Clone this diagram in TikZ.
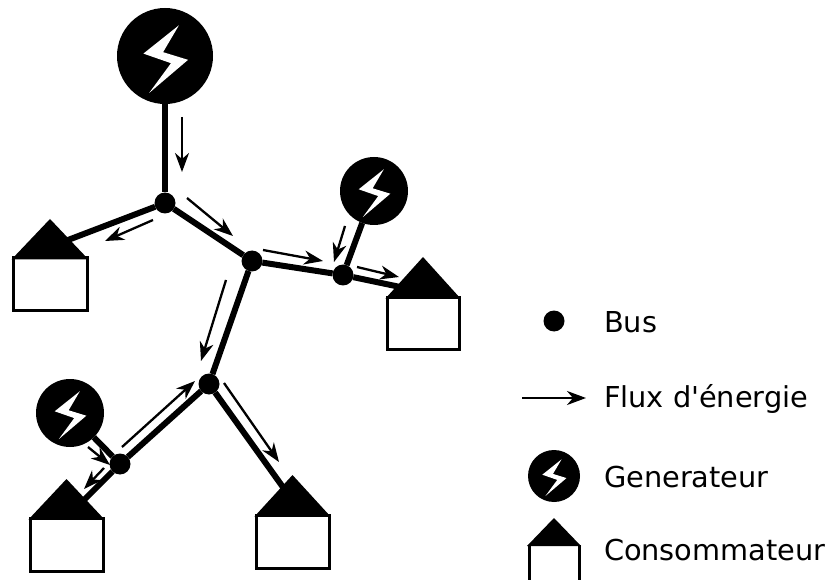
\documentclass[tikz,border=0pt]{standalone}
\usepackage{fontspec}
\newfontfamily\legendfont{DejaVu Sans}
\usetikzlibrary{arrows.meta}
\tikzset{
  busnode/.style={circle,fill=black,inner sep=0pt,outer sep=0pt,minimum size=21pt},
  gennode/.style={circle,fill=black,inner sep=0pt,outer sep=0pt,minimum size=#1},
  housebox/.style={rectangle,draw=black,fill=white,line width=3pt,inner sep=0pt,outer sep=0pt},
  link/.style={line width=6pt,black},
  flow/.style={line width=2.3pt,black,-{Stealth[length=19pt,width=14pt,inset=6pt]},shorten >=0pt},
  legend/.style={anchor=base west,inner sep=0pt,outer sep=0pt,font=\legendfont\fontsize{28.8pt}{32pt}\selectfont}
}
% name, cx, cy, radius
\newcommand{\gennd}[4]{%
  \node[gennode=#4*2pt] (#1) at (#2,#3) {};
  \fill[white,shift={(#2pt,-#3pt)},scale=#4]
    (.29,-.64) -- (-.45,-.05) -- (.125,.15) -- (-.33,.77) -- (.48,.08) -- (-.04,-.08) -- cycle;
}
% name, xleft, xright, yapex, ybase, ybottom
\newcommand{\housend}[6]{%
  \node[housebox,minimum width=#3pt-#2pt,minimum height=#6pt-#5pt,anchor=north west] (#1) at (#2,#5) {};
  \fill[black] (#2-1.5,#5+1.5) -- ({(#2+#3)/2},#4) -- (#3+1.5,#5+1.5) -- cycle;
}
% id, x1, y1, x2, y2
\newcommand{\flownd}[5]{%
  \coordinate (#1s) at (#2,#3);
  \coordinate (#1e) at (#4,#5);
  \draw[flow] (#1s) -- (#1e);
}
\begin{document}
\begin{tikzpicture}[x=1pt,y=-1pt]
\useasboundingbox (0,0) rectangle (833,580);
% nodes
\node[busnode] (b1) at (165,203) {};
\node[busnode] (b2) at (252,261) {};
\node[busnode] (b3) at (343,275) {};
\node[busnode] (b4) at (209,384) {};
\node[busnode] (b5) at (120,464) {};
% connectors (ends inside the roofs)
\coordinate (r1) at (68,240);
\coordinate (r2) at (405,288);
\coordinate (r3) at (84,500);
\coordinate (r4) at (285,490);
\gennd{g1}{165}{56}{48}
\gennd{g2}{374}{191}{34}
\gennd{g3}{70}{413}{34}
\draw[link] (g1) -- (b1);
\draw[link] (b1) -- (b2);
\draw[link] (b2) -- (b3);
\draw[link] (g2) -- (b3);
\draw[link] (b2) -- (b4);
\draw[link] (b4) -- (b5);
\draw[link] (g3) -- (b5);
\draw[link] (b1) -- (r1);
\draw[link] (b3) -- (r2);
\draw[link] (b5) -- (r3);
\draw[link] (b4) -- (r4);
% houses
\housend{h1}{13}{87}{219}{258}{310}
\housend{h2}{387}{459}{257}{297}{349}
\housend{h3}{30}{103}{479}{518}{571}
\housend{h4}{256}{329}{475}{515}{568}
% flows
\flownd{fa}{182}{117}{182}{172}
\flownd{fb}{153}{220}{105}{241}
\flownd{fc}{187}{198}{233}{236}
\flownd{fd}{263}{250}{323}{261}
\flownd{fe}{345}{226}{334}{262}
\flownd{ff}{357}{267}{399}{277}
\flownd{fg}{226}{280}{201}{361}
\flownd{fh}{224}{383}{279}{462}
\flownd{fi}{122}{447}{195}{381}
\flownd{fj}{88}{447}{110}{465}
\flownd{fk}{104}{468}{84}{489}
% legend
\node[busnode] (lb) at (554,321) {};
\flownd{fl}{522}{398}{586}{398}
\gennd{lg}{554}{476}{26}
\fill[black] (527,546) -- (554,518) -- (581,546) -- cycle;
\coordinate (lh1) at (529,545);
\coordinate (lh2) at (529,590);
\coordinate (lh3) at (579,590);
\coordinate (lh4) at (579,545);
\draw[line width=3pt] (lh1) -- (lh2) (lh3) -- (lh4);
\node[legend] (t1) at (604,332) {Bus};
\node[legend] (t2) at (604,407) {Flux d'énergie};
\node[legend] (t3) at (604,487) {Generateur};
\node[legend] (t4) at (604,560) {Consommateur};
\end{tikzpicture}
\end{document}
